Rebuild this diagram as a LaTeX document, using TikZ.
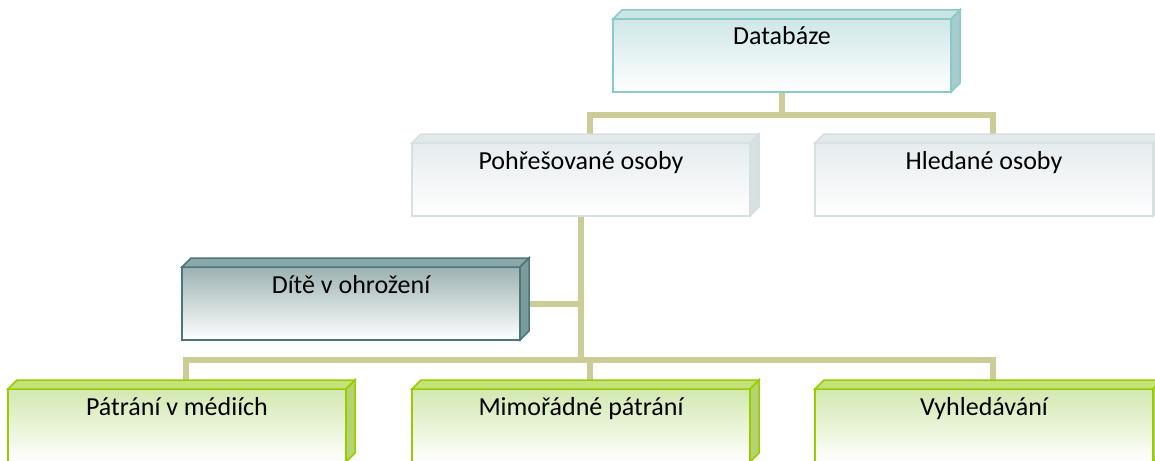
\documentclass[tikz,border=0pt]{standalone}
\usepackage{fontspec}
\setmainfont{Carlito}
\usepackage{tikz}
\usetikzlibrary{calc,backgrounds}

\definecolor{connline}{HTML}{CCCC99}
\definecolor{tealline}{HTML}{8CC9C9}
\definecolor{tealfill}{HTML}{CFE7E7}
\definecolor{tealtop}{HTML}{C9E5E5}
\definecolor{tealside}{HTML}{A6CCCC}
\definecolor{grayline}{HTML}{D5E0E2}
\definecolor{grayfill}{HTML}{E6ECEE}
\definecolor{graytop}{HTML}{E3E9EB}
\definecolor{grayside}{HTML}{D8E0E2}
\definecolor{darkline}{HTML}{4D7676}
\definecolor{darkfill}{HTML}{9CB2B2}
\definecolor{darktop}{HTML}{8AA8A8}
\definecolor{darkside}{HTML}{7A9C9C}
\definecolor{greenline}{HTML}{99CC00}
\definecolor{greenfill}{HTML}{D3E8B0}
\definecolor{greentop}{HTML}{C5E17A}
\definecolor{greenside}{HTML}{B4D470}

\tikzset{
  tdbox/.style={rectangle, anchor=north west, minimum width=338pt,
    text height=26pt, text depth=47pt, inner sep=0pt, outer sep=0pt,
    line width=1.5pt, font=\fontsize{26}{30}\selectfont},
  tealbox/.style={tdbox, draw=tealline, top color=tealfill, middle color=tealfill!60!white, bottom color=white},
  graybox/.style={tdbox, draw=grayline, top color=grayfill, middle color=grayfill!60!white, bottom color=white},
  darkbox/.style={tdbox, draw=darkline, top color=darkfill, middle color=darkfill!55!white, bottom color=white},
  greenbox/.style={tdbox, draw=greenline, top color=greenfill, middle color=greenfill!60!white, bottom color=white},
  conn/.style={draw=connline, line width=6pt}
}

% top and side face of a box: name, line, top face, side face
\newcommand{\bevel}[4]{%
  \filldraw[draw=#2, fill=#3, line width=1.5pt] (#1.north west) -- ++(9,-9)
    -- ($(#1.north east)+(9,-9)$) -- (#1.north east) -- cycle;
  \filldraw[draw=#2, fill=#4, line width=1.5pt] (#1.north east) -- ++(9,-9)
    -- ($(#1.south east)+(9,-9)$) -- (#1.south east) -- cycle;
  \coordinate (#1 top) at ($(#1.north)+(9,-9)$);
}

\begin{document}
\begin{tikzpicture}[x=1pt, y=-1pt]
\useasboundingbox (0,0) rectangle (1155,460);

\node[tealbox] (db) at (613,19) {Databáze};
\bevel{db}{tealline}{tealtop}{tealside}

\node[graybox] (pohr) at (412,143) {Pohřešované osoby};
\bevel{pohr}{grayline}{graytop}{grayside}
\node[graybox] (hled) at (815,143) {Hledané osoby};
\bevel{hled}{grayline}{graytop}{grayside}

\node[darkbox] (dite) at (182,267) {Dítě v ohrožení};
\bevel{dite}{darkline}{darktop}{darkside}

\node[greenbox] (media) at (8,389) {Pátrání v médiích};
\bevel{media}{greenline}{greentop}{greenside}
\node[greenbox] (mimo) at (412,389) {Mimořádné pátrání};
\bevel{mimo}{greenline}{greentop}{greenside}
\node[greenbox] (vyhl) at (815,389) {Vyhledávání};
\bevel{vyhl}{greenline}{greentop}{greenside}

% connectors
\begin{scope}[on background layer]
\draw[conn] (db.south) -- ++(0,23) -| (pohr top);
\draw[conn] (db.south) -- ++(0,23) -| (hled top);
\draw[conn] (pohr.south) -- ++(0,144) -| (media top);
\draw[conn] (pohr.south) -- ++(0,144) -| (mimo top);
\draw[conn] (pohr.south) -- ++(0,144) -| (vyhl top);
\draw[conn] (dite.east) -- (dite.east -| pohr.south);
\end{scope}
\end{tikzpicture}
\end{document}
